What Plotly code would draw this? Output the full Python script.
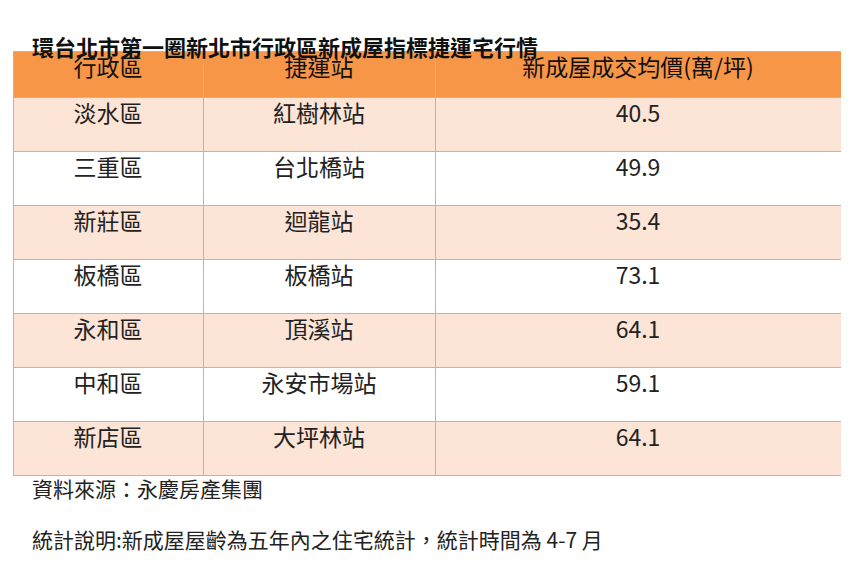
import plotly.graph_objects as go

title = "環台北市第一圈新北市行政區新成屋指標捷運宅行情"
headers = ["行政區", "捷運站", "新成屋成交均價(萬/坪)"]
districts = ["淡水區", "三重區", "新莊區", "板橋區", "永和區", "中和區", "新店區"]
stations = ["紅樹林站", "台北橋站", "迴龍站", "板橋站", "頂溪站", "永安市場站", "大坪林站"]
prices = [40.5, 49.9, 35.4, 73.1, 64.1, 59.1, 64.1]
notes = ["資料來源：永慶房產集團", "統計說明:新成屋屋齡為五年內之住宅統計，統計時間為 4-7 月"]

W, H = 849, 583
F = "Noto Sans CJK TC"
fills = ["#FCE4D6" if i % 2 == 0 else "#FFFFFF" for i in range(len(districts))]
border = "#F4A66A"

fig = go.Figure(go.Table(
    domain=dict(x=[5 / W, 833 / W], y=[1 - 470 / H, 1 - 43 / H]),
    columnwidth=[190, 232, 406],
    header=dict(values=headers, fill_color="#F79646", line_color=border,
                font=dict(family=F, size=23, color="#111"), height=46, align="center"),
    cells=dict(values=[districts, stations, [f"{p:.1f}" for p in prices]],
               fill_color=[fills] * 3, line_color=border,
               font=dict(family=F, size=23, color="#222"), height=54, align="center"),
))
fig.add_annotation(x=22 / W, y=1 - 20 / H, xref="paper", yref="paper", xanchor="left",
                   text=f"<b>{title}</b>", showarrow=False, font=dict(family=F, size=22, color="#111"))
for i, (n, yy) in enumerate(zip(notes, [497, 548])):
    fig.add_annotation(x=22 / W, y=1 - yy / H, xref="paper", yref="paper", xanchor="left",
                       text=n, showarrow=False, font=dict(family=F, size=21, color="#222"))
fig.update_layout(width=W, height=H, margin=dict(l=0, r=0, t=0, b=0),
                  paper_bgcolor="white")
fig.write_html("out.html")
